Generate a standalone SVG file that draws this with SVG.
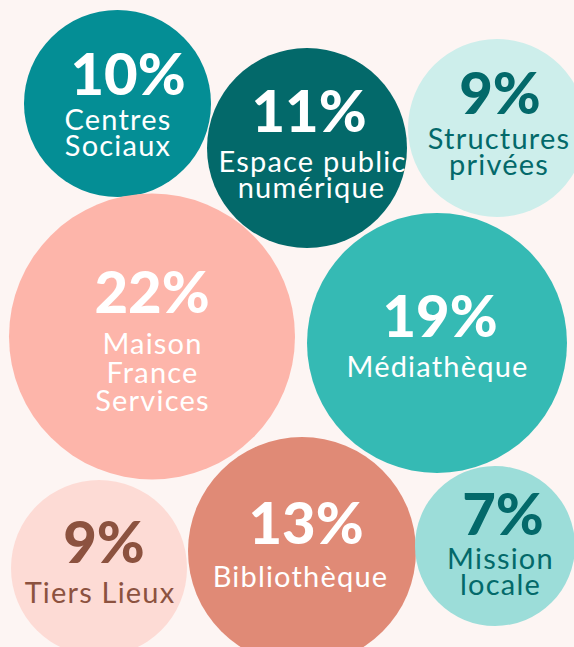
<svg xmlns="http://www.w3.org/2000/svg" width="574" height="647" viewBox="0 0 574 647">
<style>
.pct{font-family:Lato,"Liberation Sans",sans-serif;font-weight:900;font-size:58px;text-anchor:middle}
.lbl{font-family:Lato,"Liberation Sans",sans-serif;font-weight:400;font-size:29px;letter-spacing:1.2px;text-anchor:middle}
.w{fill:#ffffff}
.dt{fill:#03696A}
.br{fill:#8C523F}
</style>
<rect x="0" y="0" width="574" height="647" fill="#FDF5F3"/>
<g id="centres-sociaux">
<circle cx="117.5" cy="103.5" r="93.5" fill="#048E95"/>
<text class="pct w" x="128" y="95">10%</text>
<text class="lbl w" x="118" y="130">Centres</text>
<text class="lbl w" x="118" y="156">Sociaux</text>
</g>
<g id="espace-public">
<circle cx="307" cy="148" r="100" fill="#03696A"/>
<text class="pct w" x="309" y="132">11%</text>
<text class="lbl w" x="312.5" y="172">Espace public</text>
<text class="lbl w" x="311.5" y="198">numérique</text>
</g>
<g id="structures-privees">
<circle cx="497" cy="128" r="89" fill="#CDEEEB"/>
<text class="pct dt" x="500" y="114">9%</text>
<text class="lbl dt" x="499" y="149">Structures</text>
<text class="lbl dt" x="499" y="175">privées</text>
</g>
<g id="maison-france-services">
<circle cx="152" cy="336.5" r="143" fill="#FDB5AA"/>
<text class="pct w" x="152" y="313">22%</text>
<text class="lbl w" x="152.5" y="354">Maison</text>
<text class="lbl w" x="152.5" y="383">France</text>
<text class="lbl w" x="152.5" y="411">Services</text>
</g>
<g id="mediatheque">
<circle cx="437" cy="343" r="130" fill="#35BAB4"/>
<text class="pct w" x="440" y="337">19%</text>
<text class="lbl w" x="437.5" y="377">Médiathèque</text>
</g>
<g id="tiers-lieux">
<circle cx="99" cy="568" r="88" fill="#FDDBD5"/>
<text class="pct br" x="104" y="563">9%</text>
<text class="lbl br" x="100" y="603">Tiers Lieux</text>
</g>
<g id="bibliotheque">
<circle cx="302" cy="551" r="114" fill="#E08A76"/>
<text class="pct w" x="306" y="544">13%</text>
<text class="lbl w" x="300.5" y="587">Bibliothèque</text>
</g>
<g id="mission-locale">
<circle cx="495" cy="546" r="80" fill="#9CDDD9"/>
<text class="pct dt" x="503" y="535">7%</text>
<text class="lbl dt" x="500.5" y="569">Mission</text>
<text class="lbl dt" x="500.5" y="595">locale</text>
</g>
<g id="connectors"></g>
</svg>
